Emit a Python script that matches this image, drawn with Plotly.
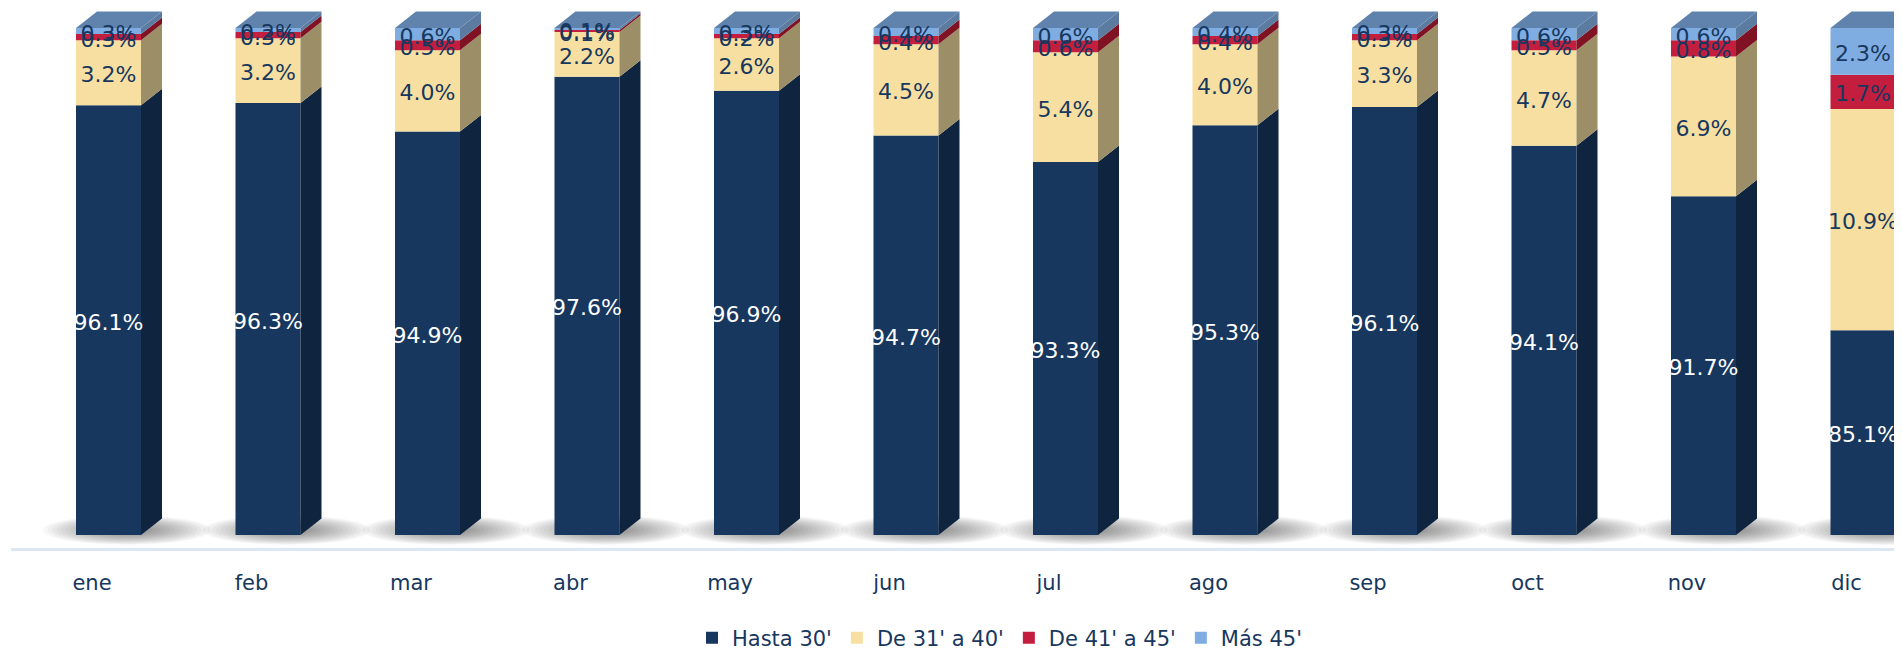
import numpy as np
import plotly.graph_objects as go

months = ["ene", "feb", "mar", "abr", "may", "jun", "jul", "ago", "sep", "oct", "nov", "dic"]
hasta_30 = [96.1, 96.3, 94.9, 97.6, 96.9, 94.7, 93.3, 95.3, 96.1, 94.1, 91.7, 85.1]
de_31_40 = [3.2, 3.2, 4.0, 2.2, 2.6, 4.5, 5.4, 4.0, 3.3, 4.7, 6.9, 10.9]
de_41_45 = [0.3, 0.3, 0.5, 0.1, 0.2, 0.4, 0.6, 0.4, 0.3, 0.5, 0.8, 1.7]
mas_45 = [0.3, 0.2, 0.6, 0.1, 0.3, 0.4, 0.6, 0.4, 0.3, 0.6, 0.6, 2.3]

series_names = ["Hasta 30'", "De 31' a 40'", "De 41' a 45'", "Más 45'"]
front = ["#17375E", "#F6DFA0", "#C41E3E", "#7FACE1"]
side = ["#0F243E", "#9C8E66", "#7F1323", "#5C7BA0"]
top_colour = "#6083AD"
text_colour = ["#FFFFFF", "#17375E", "#17375E", "#17375E"]

PAGE = 8              # page body margin around the figure
W, H = 1902 - PAGE, 648 - PAGE
ml, mb = 3, 100
axis_floor = 75.0
px_x = 159.5          # pixels per category
px_y = 20.28          # pixels per percentage point
x0_px = 92.0 - PAGE   # pixel of first category label
base_px = 535.0 - PAGE  # pixel of axis_floor

bar_w = 65 / px_x
bar_off = (68 - x0_px) / px_x
dx = 21 / px_x
dy = 16.5 / px_y

x_range = [(ml - x0_px) / px_x, (W - x0_px) / px_x]
y_range = [axis_floor - (H - mb - base_px) / px_y, axis_floor + base_px / px_y]

idx = np.arange(len(months), dtype=float)
vals = [np.array(s, dtype=float) for s in (hasta_30, de_31_40, de_41_45, mas_45)]
# 100 % stacked column: rounded labels are normalised so every column tops out at 100
tops = np.cumsum(vals, axis=0) / np.sum(vals, axis=0) * 100
bottoms = [np.full(len(months), axis_floor)] + [tops[k] for k in range(3)]

left = idx + bar_off
right = left + bar_w
mid = left + bar_w / 2

fig = go.Figure()

for k, name in enumerate(series_names):
    fig.add_trace(go.Bar(
        x=idx, y=tops[k] - bottoms[k], base=bottoms[k], width=bar_w, offset=bar_off,
        name=name, marker=dict(color=front[k], line=dict(width=0)), hoverinfo="skip",
    ))

def polys(xs, ys, colour):
    px, py = [], []
    for a, b in zip(xs, ys):
        px += list(a) + [None]
        py += list(b) + [None]
    fig.add_trace(go.Scatter(
        x=px, y=py, mode="lines", fill="toself", fillcolor=colour,
        line=dict(width=0, color=colour), showlegend=False, hoverinfo="skip",
    ))

for k in range(4):
    polys(
        [[r, r + dx, r + dx, r, r] for r in right],
        [[b, b + dy, t + dy, t, b] for b, t in zip(bottoms[k], tops[k])],
        side[k],
    )

polys(
    [[l, r, r + dx, l + dx, l] for l, r in zip(left, right)],
    [[t, t, t + dy, t + dy, t] for t in tops[3]],
    top_colour,
)

for k in range(4):
    fig.add_trace(go.Scatter(
        x=mid, y=(tops[k] + bottoms[k]) / 2 - 4 / px_y, mode="text",
        text=[f"{v:.1f}%" for v in vals[k]], textposition="middle center",
        textfont=dict(family="DejaVu Sans", size=22, color=text_colour[k]),
        showlegend=False, hoverinfo="skip", cliponaxis=False,
    ))

shapes = []
cx_off = (111 - x0_px + PAGE) / px_x
cy = axis_floor + 5 / px_y
for i in idx:
    for s in np.linspace(1.0, 0.3, 14):
        hw, hh = 84 / px_x * s, 15 / px_y * s
        shapes.append(dict(
            type="circle", xref="x", yref="y", layer="below",
            x0=i + cx_off - hw, x1=i + cx_off + hw, y0=cy - hh, y1=cy + hh,
            fillcolor="rgba(0,0,0,0.032)", line=dict(width=0),
        ))

fig.update_layout(
    width=W, height=H, autosize=False,
    barmode="overlay", paper_bgcolor="white", plot_bgcolor="white",
    margin=dict(l=ml, r=0, t=0, b=mb, pad=0, autoexpand=False),
    font=dict(family="DejaVu Sans", color="#17375E", size=20),
    shapes=shapes,
    xaxis=dict(
        range=x_range, tickmode="array", tickvals=idx, ticktext=months,
        showgrid=False, zeroline=False, showline=True, linecolor="#DCE6F4", linewidth=3,
        ticks="outside", ticklen=14, tickcolor="rgba(0,0,0,0)",
        tickfont=dict(size=21, color="#17375E"),
    ),
    yaxis=dict(range=y_range, visible=False, showgrid=False, zeroline=False),
    legend=dict(
        orientation="h", x=(692 - PAGE - ml) / (W - ml), xanchor="left",
        y=(H - mb - (638 - PAGE)) / (H - mb), yanchor="middle",
        font=dict(size=21, color="#17375E"), bgcolor="rgba(0,0,0,0)",
    ),
)

fig.write_html("out.html")
